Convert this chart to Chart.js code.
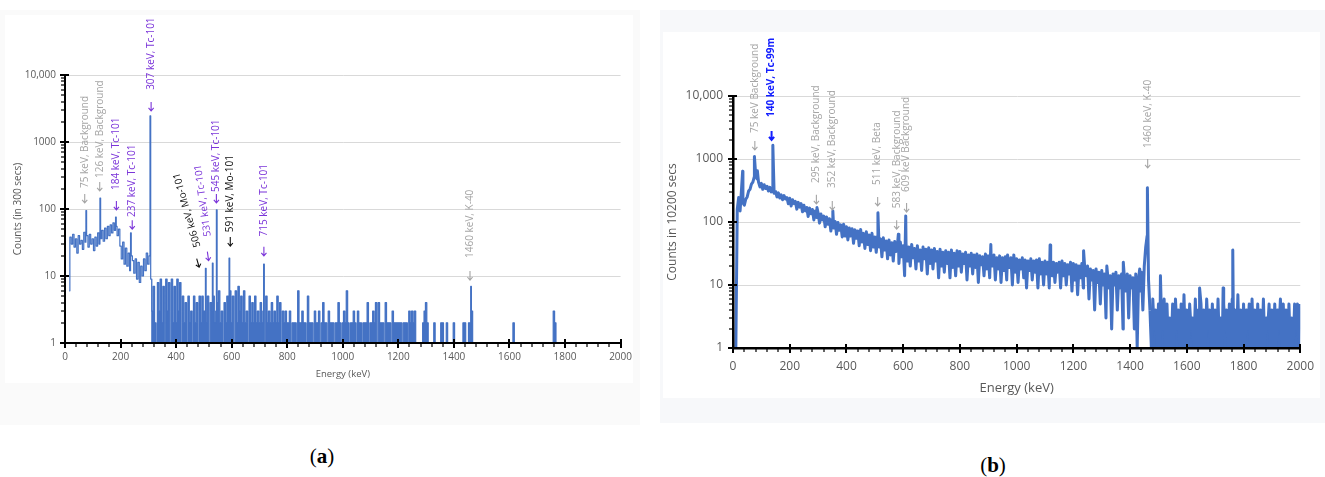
<!DOCTYPE html>
<html>
<head>
<meta charset="utf-8">
<script src="https://cdn.jsdelivr.net/npm/chart.js@4.4.1/dist/chart.umd.min.js"></script>
<style>
  body { margin: 0; background: #fff; width: 1325px; height: 477px; position: relative; overflow: hidden; font-family: "Open Sans", sans-serif; }
  .box { position: absolute; }
  #bgA { left: 0; top: 10px; width: 640px; height: 415px; background: #fafafa; }
  #inA { left: 5px; top: 15px; width: 628px; height: 368px; background: #fff; }
  #bgB { left: 660px; top: 10px; width: 665px; height: 413px; background: #f7f8fa; }
  #inB { left: 663px; top: 32px; width: 657px; height: 366px; background: #fff; }
  canvas { position: absolute; top: 0; }
  #chartA { left: 0; }
  #chartB { left: 660px; }
  .cap { position: absolute; width: 60px; text-align: center; font-family: "Liberation Serif", serif; font-size: 21px; line-height: 26px; color: #000; }
</style>
</head>
<body>
<div class="box" id="bgA"></div><div class="box" id="inA"></div>
<div class="box" id="bgB"></div><div class="box" id="inB"></div>
<canvas id="chartA" width="640" height="395"></canvas>
<canvas id="chartB" width="665" height="410"></canvas>
<div class="cap" style="left:292px;top:443px">(<b>a</b>)</div>
<div class="cap" style="left:963px;top:452px">(<b>b</b>)</div>
<script>
// channel grid of the read-off spectra: 5 keV per point
const STEP = 5;
const yTicks = [1, 10, 100, 1000, 10000];

// (a) counts in 300 s, read from 0 keV upward (null = no data, 1 = on the axis)
const countsA1 = [null,null,null,6,38,30,42,27,36,22, 40,30,34,25,45,32,40,27,42,30,
  36,24,38,28,44,30,36,48,33,52, 36,55,40,58,44,62,48,55,40,50,
  28,18,32,15,26,14,22,12,20,17, 11,18,9,16,8,14,10,18,12,22,
  15,20,9,3,7,2,1,8,3,9, 2,7,1,9,3,8,1,9,2,7];
const countsA2 = [2,9,3,8,1,5,2,4,1,5, 2,3,1,5,2,4,1,5,2,5,
  3,2,2,5,1,4,3,5,2,3, 4,6,2,3,1,4,2,5,3,6,
  2,5,1,6,2,7,3,5,2,6, 2,3,1,5,2,4,2,5,2,3,
  2,4,2,3,1,5,2,3,2,4, 2,3,2,5,2,4,1,3,2,3];
const countsA3 = [2,2,3,1,2,2,2,1,6,2, 2,3,2,2,1,5,2,2,2,1,
  3,2,2,3,1,2,4,2,2,1, 3,2,2,2,1,2,2,4,2,1,
  2,3,2,6,2,1,2,2,3,2, 1,3,2,2,1,2,2,2,4,1,
  2,2,3,2,4,1,4,2,2,2, 1,4,2,2,2,1,3,2,2,2];
const countsA4 = [2,2,2,1,2,2,2,1,3,2, 3,2,3,1,1,1,1,1,2,3,
  4,2,1,1,1,1,2,1,1,1, 1,2,2,1,1,2,1,1,1,1,
  2,1,1,1,1,1,1,2,2,1, 1,2,1,3,1,1,1,1,1,1,
  1,1,1,1,1,1,1,1,1,1, 1,1,1,1,1,1,1,1,1,1];
const countsA5 = [1,1,1,2,1,1,1,1,1,1, 1,1,1,1,1,1,1,1,1,1,
  1,1,1,1,1,1,1,1,1,1, 1,1,3,2,1,1,1,1,1,1,
  1,1,1,1,1,1,1,1,1,1, 1,1,1,1,1,1,1,1,1,1,
  1,1,1,1,1,1,1,1,1,1, 1,1,1,1,1,1,1,1,1,1];
// (a) photopeaks [keV, counts]
const peaksA = [[75.5, 95], [126.5, 146], [184, 76], [237, 44], [307, 2450], [506, 13],
  [531, 15.6], [545, 97], [591, 18.5], [715, 15], [1461, 7]];

// (b) counts in 10200 s
const countsB1 = [null,null,1,160,245,150,330,200,185,230, 250,310,330,400,430,520,560,480,430,360,
  410,330,390,340,370,310,355,300,330,285, 305,250,290,240,270,225,262,232,245,195,
  238,180,226,196,212,160,205,172,196,145, 184,150,170,122,166,135,158,108,150,118,
  140,96,134,108,124,84,120,92,113,72, 110,80,102,64,98,74,90,58,92,60];
const countsB2 = [84,52,80,60,78,46,75,55,72,42, 76,48,66,38,70,44,62,35,66,40,
  58,33,60,40,54,28,56,36,50,26, 52,30,47,24,49,34,45,22,48,28,
  42,14,46,24,40,20,44,27,38,18, 42,24,36,17,40,26,37,15,39,22,
  36,18,38,24,34,13,37,20,33,16, 35,22,33,13,36,19,32,14,35,20];
const countsB3 = [34,16,31,22,33,12,30,20,32,15, 30,19,31,11,29,21,28,14,31,18,
  29,13,28,20,30,12,27,18,29,11, 27,17,28,12,26,19,27,10,30,16,
  26,11,25,18,27,13,25,9,24,17, 26,12,24,16,25,9,26,15,23,10,
  24,15,23,9,25,14,23,11,22,16, 23,9,24,14,22,10,21,15,23,8];
const countsB4 = [22,12,21,7,20,13,22,9,19,14, 20,6,18,12,17,4,18,11,16,5,
  17,10,15,3,16,9,14,2,15,10, 16,4,14,9,15,2,13,8,15,3,
  14,9,13,2,15,1,13,8,16,4, 20,40,60,12,4,1,6,2,4,1,
  5,1,4,2,6,1,5,1,3,1, 5,1,6,2,4,1,5,1,7,1];
const countsB5 = [4,1,5,2,3,1,6,1,4,1, 5,1,4,1,6,2,4,1,5,1,
  4,1,6,1,3,1,5,2,4,1, 5,1,6,1,4,1,7,1,4,1,
  5,1,4,2,5,1,6,1,4,1, 5,1,4,1,6,1,3,2,5,1,
  4,1,5,1,4,2,6,1,5,1, 4,1,5,1,3,1,5,2,5,1];
const peaksB = [[34, 640], [75.5, 1100], [86, 650], [140.5, 1650], [296, 170], [352, 150],
  [511, 140], [583, 64], [609, 125], [909, 44], [968, 30], [1118, 43], [1236, 35],
  [1318, 20], [1376, 23], [1434, 18], [1461, 350], [1507, 14], [1645, 9], [1728, 9],
  [1762, 36], [2000, 5]];

const GRAY = '#a5a5a5', PURPLE = '#7b35d9', BLACK = '#111', BLUE = '#1420ff';

// annotations: e = energy of arrow, tip = counts at arrow tip, at = counts where text starts
const notesA = [
  {text: '75 keV, Background', e: 71, tip: 123, at: 206, color: GRAY},
  {text: '126 keV, Background', e: 125, tip: 186, at: 290, color: GRAY},
  {text: '184 keV, Tc-101', e: 185, tip: 97, at: 192, color: PURPLE},
  {text: '237 keV, Tc-101', e: 242, tip: 50, at: 76, color: PURPLE},
  {text: '307 keV, Tc-101', e: 310, tip: 2900, at: 6000, color: PURPLE},
  {text: '506 keV, Mo-101', e: 483, tip: 13.5, te: 478, at: 27, color: BLACK, angle: -106},
  {text: '531 keV, Tc-101', e: 517, tip: 17, te: 515, at: 39, color: PURPLE, angle: -98},
  {text: '545 keV, Tc-101', e: 545, tip: 123, at: 180, color: PURPLE},
  {text: '591 keV, Mo-101', e: 595, tip: 28, at: 45, color: BLACK},
  {text: '715 keV, Tc-101', e: 716, tip: 20, at: 39, color: PURPLE},
  {text: '1460 keV, K-40', e: 1458, tip: 8.7, at: 18.6, color: GRAY}
];
const notesB = [
  {text: '75 keV Background', e: 77, tip: 1390, at: 2580, color: GRAY},
  {text: '140 keV, Tc-99m', e: 136, tip: 2000, at: 4640, color: BLUE, bold: true},
  {text: '295 keV, Background', e: 294, tip: 194, at: 415, color: GRAY},
  {text: '352 keV, Background', e: 350, tip: 155, at: 347, color: GRAY},
  {text: '511 keV, Beta', e: 510, tip: 180, at: 386, color: GRAY},
  {text: '583 keV, Background', e: 577, tip: 77, at: 166, color: GRAY},
  {text: '609 keV Background', e: 612, tip: 144, at: 300, color: GRAY},
  {text: '1460 keV, K-40', e: 1462, tip: 720, at: 1490, color: GRAY}
];

function buildSeries(blocks, peaks) {
  const pts = [];
  let e = 0;
  blocks.forEach(b => b.forEach(v => { pts.push({x: e, y: v}); e += STEP; }));
  peaks.forEach(p => pts.push({x: p[0], y: p[1]}));
  pts.sort((a, b) => a.x - b.x);
  return pts;
}

// minor/major tick marks on top of the built-in black axis borders
function drawTickMarks(chart) {
  const {ctx, chartArea: a, scales: {x, y}} = chart;
  const left = Math.round(a.left), bottom = Math.round(a.bottom);
  ctx.save();
  ctx.fillStyle = '#000';
  for (let e = 0; e <= 2000; e += 40) {
    const px = Math.round(x.getPixelForValue(e));
    if (e % 200 === 0) ctx.fillRect(px - 1, bottom - 4, 2, 9);
    else ctx.fillRect(px - 0.6, bottom, 1.2, 4);
  }
  for (let d = 1; d <= 10000; d *= 10) {
    for (let m = 1; m < 10 && d * m <= 10000; m++) {
      const py = Math.round(y.getPixelForValue(d * m));
      if (m === 1) ctx.fillRect(left - 5, py - 1, 9, 2);
      else ctx.fillRect(left - 4, py - 0.6, 4, 1.2);
    }
  }
  ctx.restore();
}

function drawNotes(chart, items, size) {
  const {ctx, scales: {x, y}} = chart;
  items.forEach(n => {
    const ang = (n.angle || -90) * Math.PI / 180;
    const dx = Math.cos(ang), dy = Math.sin(ang);
    const tx = x.getPixelForValue(n.e), ty = y.getPixelForValue(n.tip);
    ctx.save();
    ctx.strokeStyle = n.color;
    ctx.lineWidth = n.bold ? 2 : 1.1;
    const len = 9, hl = 4;
    const c = Math.cos(0.7), s = Math.sin(0.7);
    ctx.beginPath();
    ctx.moveTo(tx + dx * len, ty + dy * len);
    ctx.lineTo(tx, ty);
    ctx.moveTo(tx + (dx * c - dy * s) * hl, ty + (dx * s + dy * c) * hl);
    ctx.lineTo(tx, ty);
    ctx.lineTo(tx + (dx * c + dy * s) * hl, ty + (-dx * s + dy * c) * hl);
    ctx.stroke();
    const px = x.getPixelForValue(n.te !== undefined ? n.te : n.e), py = y.getPixelForValue(n.at);
    ctx.translate(px, py);
    ctx.rotate(ang);
    ctx.font = (n.bold ? 'bold ' : '') + size + 'px "Open Sans", sans-serif';
    ctx.fillStyle = n.color;
    ctx.textAlign = 'left';
    ctx.textBaseline = 'middle';
    ctx.fillText(n.text, 0, 0);
    ctx.restore();
  });
}

function makeChart(id, pts, o) {
  // dense, mostly low-count tail is drawn as a filled histogram
  const head = pts.filter(p => p.x <= o.fillFrom);
  const tail = pts.filter(p => p.x >= o.fillFrom);
  const base = {borderColor: '#4472c4', borderWidth: o.line, borderJoinStyle: 'round',
                pointRadius: 0, stepped: o.stepped};
  return new Chart(document.getElementById(id), {
    type: 'line',
    data: {
      datasets: [
        Object.assign({data: head, fill: false}, base),
        Object.assign({data: tail, fill: 'start', backgroundColor: '#4472c4'}, base)
      ]
    },
    options: {
      responsive: false,
      animation: false,
      events: [],
      layout: {padding: o.padding},
      plugins: {legend: {display: false}, tooltip: {enabled: false}},
      scales: {
        x: {
          type: 'linear', min: 0, max: 2000,
          grid: {display: false, drawTicks: false},
          border: {display: true, color: '#000', width: o.axisWidth, z: 1},
          ticks: {stepSize: 200, autoSkip: false, maxRotation: 0, padding: o.xPad, color: '#595959',
                  font: {family: 'Open Sans', size: o.tickSize}, callback: v => String(v)},
          title: {display: true, text: 'Energy (keV)', color: '#595959',
                  font: {family: 'Open Sans', size: o.xTitleSize}, padding: {top: 0, bottom: o.xTitlePad}},
          afterFit: s => { s.height = o.xHeight; }
        },
        y: {
          type: 'logarithmic', min: 1, max: 10000,
          afterBuildTicks: s => { s.ticks = yTicks.map(v => ({value: v})); },
          grid: {color: '#d9d9d9', lineWidth: 1, drawTicks: false},
          border: {display: true, color: '#000', width: o.axisWidth, z: 1},
          ticks: {padding: o.yPad, color: '#595959', font: {family: 'Open Sans', size: o.tickSize},
                  callback: v => v === 10000 ? '10,000' : String(v)},
          title: {display: true, text: o.yTitle, color: '#595959',
                  font: {family: 'Open Sans', size: o.yTitleSize}, padding: {top: o.yTitlePad, bottom: 0}},
          afterFit: s => { s.width = o.yWidth; }
        }
      }
    },
    plugins: [{
      id: 'marksAndNotes',
      afterDraw(chart) {
        drawTickMarks(chart);
        drawNotes(chart, o.notes, o.noteSize);
      }
    }]
  });
}

makeChart('chartA', buildSeries([countsA1, countsA2, countsA3, countsA4, countsA5], peaksA), {
  line: 1.2, stepped: 'middle', fillFrom: 310, axisWidth: 2, padding: {left: 0, right: 14, top: 75, bottom: 12},
  xHeight: 40, yWidth: 65, xPad: 8, yPad: 9, tickSize: 10, xTitleSize: 9.5, xTitlePad: 3,
  yTitle: 'Counts (in 300 secs)', yTitleSize: 10, yTitlePad: 12, notes: notesA, noteSize: 10
});
makeChart('chartB', buildSeries([countsB1, countsB2, countsB3, countsB4, countsB5], peaksB), {
  line: 3, stepped: false, fillFrom: 1470, axisWidth: 2.5, padding: {left: 0, right: 20, top: 96, bottom: 12},
  xHeight: 50, yWidth: 73, xPad: 11, yPad: 10, tickSize: 12, xTitleSize: 13, xTitlePad: 2,
  yTitle: 'Counts in 10200 secs', yTitleSize: 12, yTitlePad: 5, notes: notesB, noteSize: 10
});
</script>
</body>
</html>
